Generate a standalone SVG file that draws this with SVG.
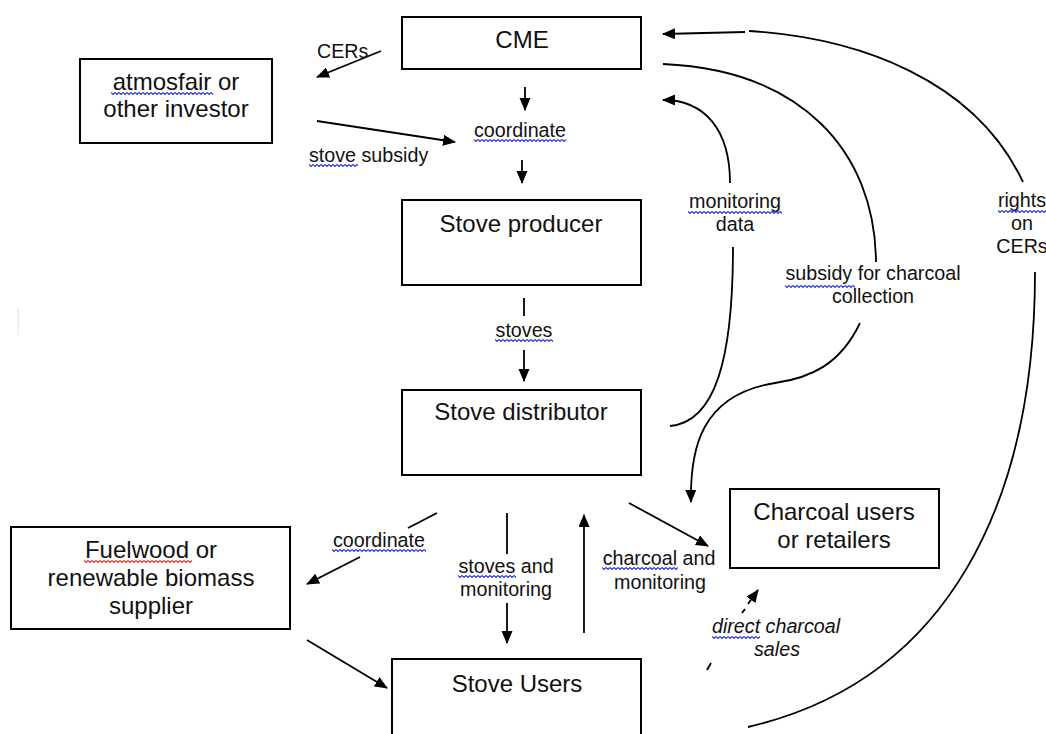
<svg xmlns="http://www.w3.org/2000/svg" width="1046" height="734" viewBox="0 0 1046 734">
<style>
.box{fill:#fff;stroke:#000;stroke-width:2}
.bt{font-family:"Liberation Sans",Arial,sans-serif;font-size:24px;fill:#111;text-anchor:middle}
.lt{font-family:"Liberation Sans",Arial,sans-serif;font-size:19.7px;fill:#111}
.c{text-anchor:middle}
.it{font-style:italic}
.ln{fill:none;stroke:#000;stroke-width:1.8}
.ar{marker-end:url(#ah)}
.dash{stroke-dasharray:5 6}
</style>
<defs>
<marker id="ah" markerUnits="userSpaceOnUse" markerWidth="14" markerHeight="12" refX="12" refY="5.5" orient="auto">
<path d="M0,0 L13,5.5 L0,11 z" fill="#000"/>
</marker>
<pattern id="sqb" patternUnits="userSpaceOnUse" width="4" height="3">
<path d="M0,0.5 L2,2.5 L4,0.5" fill="none" stroke="#2233ee" stroke-width="1.1"/>
</pattern>
<pattern id="sqr" patternUnits="userSpaceOnUse" width="4" height="3">
<path d="M0,0.5 L2,2.5 L4,0.5" fill="none" stroke="#ee2222" stroke-width="1.1"/>
</pattern>
</defs>
<rect width="1046" height="734" fill="#fff"/>
<line x1="18" y1="308" x2="18" y2="335" stroke="#e8e8e8" stroke-width="1.5"/>

<g id="connectors">
<line class="ln ar" x1="381" y1="51" x2="317" y2="77"/>
<line class="ln ar" x1="317" y1="121" x2="455" y2="142"/>
<line class="ln ar" x1="525" y1="87" x2="525" y2="110"/>
<line class="ln ar" x1="522" y1="160" x2="522" y2="183"/>
<line class="ln" x1="524" y1="298" x2="524" y2="316"/>
<line class="ln ar" x1="524" y1="350" x2="524" y2="381"/>
<line class="ln ar" x1="745" y1="32" x2="663" y2="34"/>
<path class="ln" d="M749 31 C 860 38, 975 80, 1023 182"/>
<path class="ln" d="M1035 272 C 1035 500, 950 680, 748 727"/>
<path class="ln" d="M663 64 C 800 70, 875 150, 876 262"/>
<path class="ln ar" d="M860 323 C 840 365, 810 378, 775 383 C 700 395, 690 450, 691 502"/>
<path class="ln ar" d="M730 183 C 730 130, 705 100, 663 100"/>
<path class="ln" d="M733 247 C 733 360, 715 422, 670 426"/>
<line class="ln" x1="437" y1="513" x2="408" y2="528"/>
<line class="ln ar" x1="360" y1="557" x2="307" y2="584"/>
<line class="ln ar" x1="307" y1="640" x2="387" y2="688"/>
<line class="ln" x1="507" y1="513" x2="507" y2="554"/>
<line class="ln ar" x1="507" y1="603" x2="507" y2="643"/>
<line class="ln ar" x1="584" y1="633" x2="584" y2="515"/>
<line class="ln ar" x1="629" y1="503" x2="708" y2="546"/>
<line class="ln" x1="707" y1="670" x2="711" y2="663"/>
<line class="ln" x1="742" y1="613" x2="745" y2="609"/>
<line class="ln ar" x1="748" y1="604" x2="758" y2="590"/>
</g>

<g id="cme"><rect class="box" x="402" y="17" width="239" height="52"/><text class="bt" x="522" y="48">CME</text></g>
<g id="investor"><rect class="box" x="80" y="59" width="192" height="84"/><text class="bt" x="176" y="90">atmosfair or</text><text class="bt" x="176" y="117">other investor</text><rect transform="translate(111,92)" width="102" height="3" fill="url(#sqb)"/></g>
<g id="producer"><rect class="box" x="402" y="200" width="239" height="85"/><text class="bt" x="521" y="232">Stove producer</text></g>
<g id="distributor"><rect class="box" x="402" y="390" width="239" height="85"/><text class="bt" x="521" y="420">Stove distributor</text></g>
<g id="charcoal"><rect class="box" x="730" y="489" width="209" height="79"/><text class="bt" x="834" y="520">Charcoal users</text><text class="bt" x="834" y="548">or retailers</text></g>
<g id="fuelwood"><rect class="box" x="11" y="527" width="279" height="102"/><text class="bt" x="151" y="558">Fuelwood or</text><text class="bt" x="151" y="586">renewable biomass</text><text class="bt" x="151" y="614">supplier</text><rect transform="translate(84,560)" width="108" height="3" fill="url(#sqr)"/></g>
<g id="users"><rect class="box" x="392" y="659" width="249" height="90"/><text class="bt" x="517" y="692">Stove Users</text></g>

<g id="labels">
<text class="lt" x="317" y="58">CERs</text>
<text class="lt c" x="520" y="137">coordinate</text>
<rect transform="translate(474,139)" width="92" height="3" fill="url(#sqb)"/>
<text class="lt" x="309" y="162">stove subsidy</text>
<rect transform="translate(309,164)" width="49" height="3" fill="url(#sqb)"/>
<text class="lt c" x="524" y="337">stoves</text>
<rect transform="translate(495,339)" width="58" height="3" fill="url(#sqb)"/>
<text class="lt c" x="735" y="208">monitoring</text>
<text class="lt c" x="735" y="231">data</text>
<rect transform="translate(688,211)" width="94" height="3" fill="url(#sqb)"/>
<text class="lt c" x="873" y="280">subsidy for charcoal</text>
<text class="lt c" x="873" y="303">collection</text>
<rect transform="translate(785,285)" width="70" height="3" fill="url(#sqb)"/>
<text class="lt c" x="1022" y="207">rights</text>
<text class="lt c" x="1022" y="230">on</text>
<text class="lt c" x="1022" y="253">CERs</text>
<rect transform="translate(998,210)" width="48" height="3" fill="url(#sqb)"/>
<text class="lt c" x="379" y="547">coordinate</text>
<rect transform="translate(332,549)" width="94" height="3" fill="url(#sqb)"/>
<text class="lt c" x="506" y="573">stoves and</text>
<text class="lt c" x="506" y="596">monitoring</text>
<rect transform="translate(458,575)" width="58" height="3" fill="url(#sqb)"/>
<text class="lt c" x="659" y="565">charcoal and</text>
<text class="lt c" x="660" y="589">monitoring</text>
<rect transform="translate(602,567)" width="76" height="3" fill="url(#sqb)"/>
<text class="lt c it" x="776" y="633">direct charcoal</text>
<text class="lt c it" x="777" y="656">sales</text>
<rect transform="translate(712,636)" width="48" height="3" fill="url(#sqb)"/>
</g>
</svg>
